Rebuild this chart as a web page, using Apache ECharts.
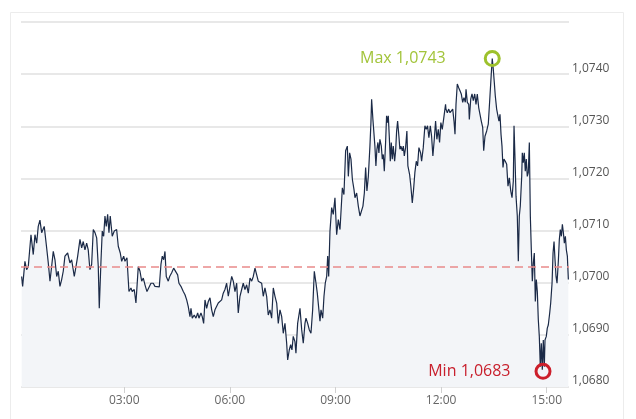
<!DOCTYPE html>
<html>
<head>
<meta charset="utf-8">
<script src="https://cdn.jsdelivr.net/npm/echarts@6/dist/echarts.min.js"></script>
<style>
html,body{margin:0;padding:0;background:#fff;}
#chart{width:636px;height:419px;}
</style>
</head>
<body>
<div id="chart"></div>
<script>
// Minutes since 00:00
const times = [5.1,6.8,10.7,13.6,16.4,18.7,21.0,24.9,27.8,30.7,33.4,36.3,39.2,43.6,47.7,50.5,53.4,56.2,59.0,61.9,64.8,67.5,70.4,73.3,76.0,78.9,83.5,87.4,90.3,94.8,97.7,100.6,104.5,107.4,110.1,113.0,115.9,118.6,121.5,124.4,127.2,130.1,133.0,135.7,
137.4,140.3,142.5,144.9,147.1,149.3,151.7,153.9,156.1,159.5,163.0,167.0,169.8,173.2,175.6,179.0,181.2,184.6,188.0,
191.4,193.6,197.0,199.9,203.9,206.8,209.7,212.4,215.3,218.7,222.1,225.5,229.4,232.3,235.7,239.7,242.5,244.8,247.2,249.4,251.6,255.0,257.4,260.8,264.2,267.6,271.0,273.2,276.6,280.6,283.5,286.4,289.1,292.0,293.7,295.9,299.3,302.2,305.1,307.3,310.7,312.9,315.3,317.6,320.4,323.2,326.1,329.0,331.7,334.6,337.5,340.2,343.1,346.0,348.7,351.6,354.5,357.3,360.2,363.1,365.8,368.7,
371.6,374.3,377.2,380.1,382.8,385.7,388.6,391.4,394.3,397.2,399.9,402.8,405.7,408.4,411.3,414.2,416.9,419.8,422.7,425.4,428.3,431.2,434.0,436.9,439.8,442.5,445.4,448.3,451.0,453.9,456.8,458.5,461.2,463.6,465.8,468.0,470.9,472.6,475.5,479.5,482.4,485.1,488.0,489.7,492.6,495.3,498.2,501.1,503.9,506.8,509.0,511.4,513.6,515.3,518.2,520.4,522.6,525.0,526.7,528.4,530.6,533.5,536.2,539.1,542.0,544.8,547.7,
551.7,554.4,557.3,560.2,561.9,564.1,566.4,568.8,571.5,573.2,576.1,578.9,581.7,584.6,586.8,589.2,591.4,593.6,596.0,598.7,600.4,601.6,603.8,605.5,607.2,608.9,610.6,612.3,614.0,615.7,618.1,619.8,621.5,623.2,625.4,627.1,628.8,630.0,631.7,633.4,635.1,636.8,638.5,640.8,642.5,644.2,645.9,648.1,649.8,651.5,653.9,655.6,657.3,659.5,661.7,663.4,666.3,668.5,670.9,673.1,675.3,677.7,679.9,682.2,685.1,686.8,689.6,692.4,694.7,696.9,699.2,701.6,703.8,706.0,708.4,710.6,712.8,715.2,717.4,719.6,722.0,724.7,727.6,
728.3,730.6,733.0,735.2,737.4,739.8,742.0,743.7,745.4,747.6,750.0,752.2,754.4,756.8,759.0,761.3,762.5,764.7,767.1,768.1,770.5,772.7,774.9,777.3,779.5,781.7,784.1,786.3,788.5,790.9,792.6,794.8,797.7,800.4,803.3,805.5,807.2,808.9,810.7,812.4,814.7,816.4,818.6,820.4,822.1,823.8,825.5,827.2,829.4,831.8,834.0,836.3,838.7,840.9,843.1,844.3,846.0,847.7,849.9,
851.6,853.3,855.0,857.4,858.4,860.1,861.8,863.5,865.2,866.9,868.6,870.4,872.1,873.8,875.5,877.2,878.9,880.6,882.3,884.0,885.7,887.4,889.1,890.8,892.5,893.7,894.2,895.9,897.1,899.3,901.0,902.7,905.1,906.8,909.1,910.8,912.5,914.2,915.9,917.6,919.8,921.5,923.2,925.0,926.7,928.4,930.1,931.8,933.5,935.2,936.9];

const prices = [1.07012,1.06993,1.07041,1.07025,1.07031,1.07028,1.07092,1.07054,1.07092,1.07076,1.07108,1.07120,1.07096,1.07108,1.07067,1.07038,1.07003,1.07031,1.07060,1.07044,1.07012,1.07022,1.06993,1.07006,1.07022,1.07051,1.07057,1.07038,1.07044,1.07012,1.07031,1.07051,1.07083,1.07067,1.07079,1.07063,1.07076,1.07063,1.07025,1.07035,1.07102,1.07096,1.07086,1.07031,
1.06951,1.07041,1.07099,1.07089,1.07128,1.07108,1.07131,1.07096,1.07128,1.07089,1.07099,1.07102,1.07070,1.07057,1.07041,1.07051,1.07041,1.07048,1.06983,
1.06990,1.06983,1.06987,1.06961,1.07031,1.07022,1.07003,1.07009,1.06996,1.06983,1.06980,1.06999,1.06999,1.06993,1.06992,1.06992,1.07035,1.07051,1.07044,1.07060,1.07012,1.07003,1.07012,1.07019,1.07028,1.07031,1.07015,1.06999,1.06993,1.06983,1.06977,1.06967,1.06954,1.06935,1.06951,1.06932,1.06938,1.06932,1.06942,1.06932,1.06942,1.06935,1.06922,1.06967,1.06951,1.06964,1.06971,1.06948,1.06935,1.06948,1.06951,1.06961,1.06958,1.06967,1.06980,1.06987,1.06999,1.06974,1.06993,1.07012,1.07003,1.06983,
1.06999,1.06942,1.06974,1.06987,1.06999,1.06987,1.06996,1.06980,1.07009,1.07003,1.07012,1.07028,1.07015,1.07003,1.07006,1.06999,1.06974,1.06990,1.06974,1.06938,1.06948,1.06932,1.06990,1.06974,1.06961,1.06922,1.06948,1.06935,1.06903,1.06922,1.06884,1.06852,1.06871,1.06881,1.06871,1.06897,1.06887,1.06865,1.06922,1.06951,1.06910,1.06884,1.06922,1.06932,1.06922,1.06910,1.06903,1.06948,1.07022,1.06999,1.06980,1.06983,1.06926,1.06948,1.06932,1.06974,1.06999,1.07012,1.07051,1.07012,1.07099,1.07144,1.07131,1.07163,1.07092,1.07121,1.07102,
1.07182,1.07169,1.07253,1.07262,1.07204,1.07249,1.07237,1.07198,1.07179,1.07163,1.07172,1.07147,1.07128,1.07131,1.07147,1.07172,1.07221,1.07176,1.07204,1.07262,1.07307,1.07352,1.07313,1.07310,1.07262,1.07224,1.07256,1.07269,1.07249,1.07275,1.07262,1.07237,1.07246,1.07214,1.07269,1.07320,1.07307,1.07320,1.07281,1.07233,1.07269,1.07237,1.07262,1.07233,1.07253,1.07291,1.07310,1.07281,1.07256,1.07262,1.07253,1.07262,1.07243,1.07259,1.07291,1.07224,1.07208,1.07185,1.07153,1.07179,1.07211,1.07233,1.07224,1.07259,1.07249,1.07233,1.07259,1.07301,1.07294,1.07301,1.07278,1.07301,1.07281,1.07243,1.07275,1.07310,1.07275,1.07294,1.07269,1.07307,1.07294,1.07317,1.07342,
1.07333,1.07326,1.07333,1.07326,1.07323,1.07333,1.07310,1.07285,1.07342,1.07381,1.07374,1.07368,1.07362,1.07346,1.07355,1.07346,1.07371,1.07346,1.07342,1.07313,1.07352,1.07362,1.07349,1.07362,1.07342,1.07362,1.07336,1.07323,1.07310,1.07298,1.07253,1.07281,1.07291,1.07304,1.07358,1.07400,1.07430,1.07410,1.07384,1.07358,1.07333,1.07323,1.07310,1.07323,1.07285,1.07262,1.07221,1.07237,1.07233,1.07227,1.07185,1.07201,1.07176,1.07163,1.07195,1.07301,1.07237,1.07166,1.07128,
1.07041,1.07128,1.07147,1.07204,1.07249,1.07230,1.07249,1.07214,1.07237,1.07204,1.07211,1.07269,1.07128,1.07063,1.07003,1.07038,1.07057,1.06964,1.07006,1.06983,1.06929,1.06897,1.06839,1.06884,1.06833,1.06830,1.06890,1.06839,1.06890,1.06897,1.06913,1.06919,1.06942,1.06961,1.06999,1.07057,1.07079,1.07044,1.07012,1.06999,1.07041,1.07083,1.07102,1.07089,1.07112,1.07096,1.07076,1.07089,1.07063,1.07051,1.07006];

const previousClose = 1.07031;
const xTickMinutes = [180, 360, 540, 720, 900];
const yMin = 1.068, yMax = 1.075, yStep = 0.001;

const fmt = v => v.toFixed(4).replace('.', ',');
const hhmm = m => String(Math.floor(m / 60)).padStart(2, '0') + ':' + String(Math.round(m % 60)).padStart(2, '0');

const chart = echarts.init(document.getElementById('chart'));
chart.setOption({
  animation: false,
  backgroundColor: '#fff',
  textStyle: { fontFamily: 'Open Sans' },
  graphic: [{
    type: 'rect', silent: true, z: -1,
    shape: { x: 10.5, y: 12.5, width: 613, height: 420 },
    style: { fill: 'none', stroke: '#ececec', lineWidth: 1 }
  }],
  grid: { left: 21, right: 67, top: 22, bottom: 32 },
  xAxis: {
    type: 'value', min: 4, max: 938,
    splitLine: { show: false },
    axisLine: { show: false },
    axisTick: { show: true, customValues: xTickMinutes, length: 6, lineStyle: { color: '#d0d0d0' } },
    axisLabel: { customValues: xTickMinutes, formatter: v => hhmm(v), color: '#666', fontSize: 12, margin: 8 }
  },
  yAxis: {
    type: 'value', position: 'right', min: yMin, max: yMax, interval: yStep,
    axisLine: { show: false }, axisTick: { show: false },
    splitLine: { lineStyle: { color: '#e8e8e8', width: 2 } },
    axisLabel: {
      formatter: v => Math.abs(v - yMax) < 1e-9 ? '' : fmt(v),
      color: '#555', fontSize: 12, margin: 3, verticalAlign: 'bottom', lineHeight: 12
    }
  },
  series: [{
    type: 'line',
    data: times.map((t, i) => [t, prices[i]]),
    showSymbol: false,
    lineStyle: { color: '#1b2a47', width: 1.2 },
    areaStyle: { color: '#f3f5f8', origin: 'start', opacity: 1 },
    markLine: {
      silent: true, symbol: 'none', precision: 5, label: { show: false },
      lineStyle: { color: '#e98a8a', type: [8, 5], width: 1.5 },
      data: [{ yAxis: previousClose }]
    },
    markPoint: {
      silent: true,
      symbol: 'circle', symbolSize: 14,
      data: [
        { type: 'max', itemStyle: { color: 'rgba(0,0,0,0)', borderColor: '#9dc12c', borderWidth: 3 },
          label: { show: true, position: 'left', distance: 38, fontSize: 16, color: '#a2c43a',
                   formatter: p => 'Max ' + fmt(p.value) } },
        { type: 'min', itemStyle: { color: 'rgba(0,0,0,0)', borderColor: '#cc1f2b', borderWidth: 3 },
          label: { show: true, position: 'left', distance: 24, fontSize: 16, color: '#c8202d',
                   formatter: p => 'Min ' + fmt(p.value) } }
      ]
    }
  }]
});
</script>
</body>
</html>
